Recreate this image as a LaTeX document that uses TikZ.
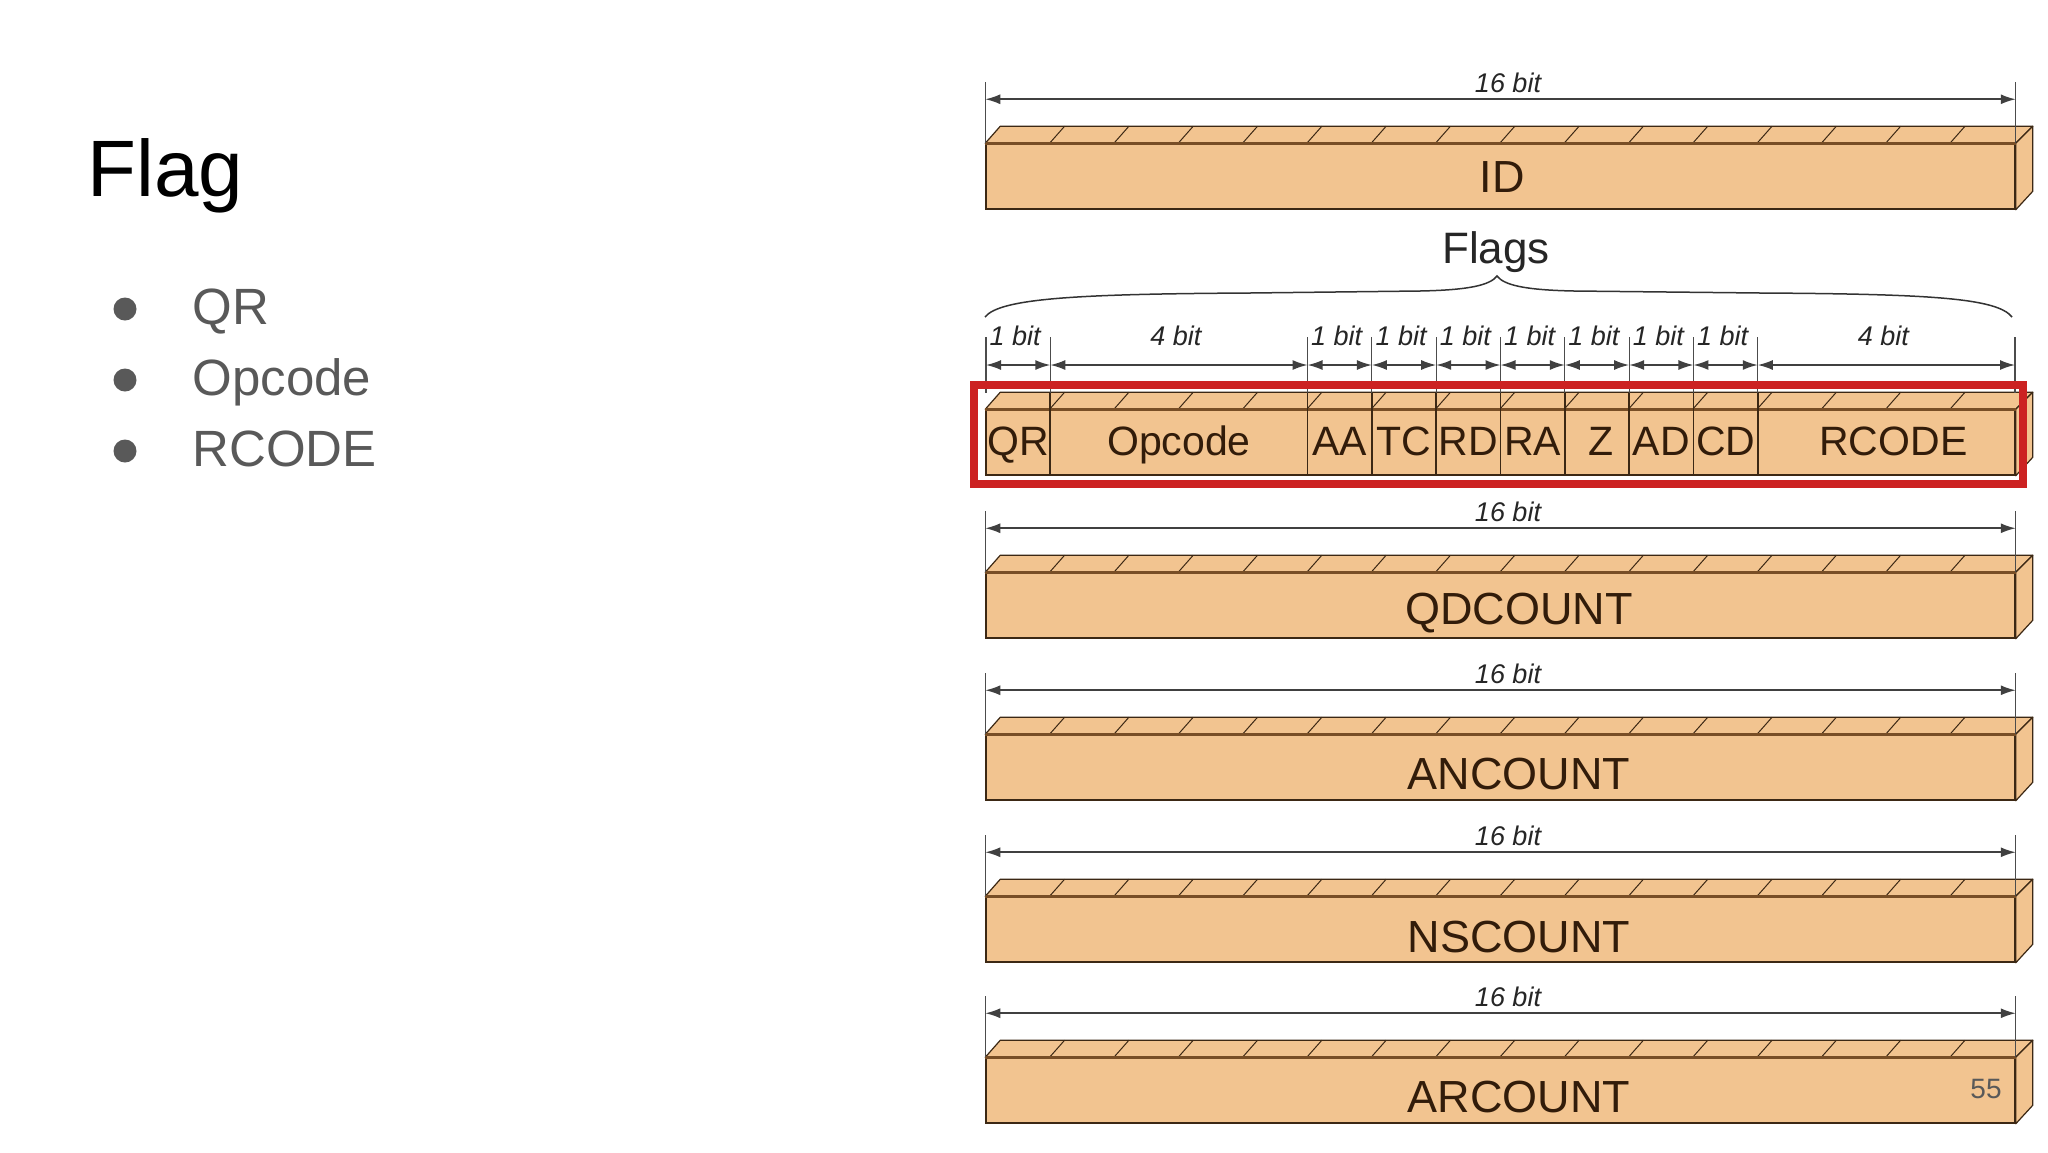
\documentclass[tikz,border=0pt]{standalone}
\usepackage{fontspec}
\setmainfont{Liberation Sans}
\usetikzlibrary{arrows.meta,positioning}
\definecolor{barfill}{RGB}{242,196,144}
\definecolor{baredge}{RGB}{120,78,38}
\definecolor{barline}{RGB}{60,40,20}
\definecolor{bartext}{RGB}{50,28,10}
\definecolor{boxred}{RGB}{204,34,34}
\definecolor{slidegray}{RGB}{89,89,89}
\newcommand{\bitw}{64.3125}

\begin{document}
\begin{tikzpicture}[x=1pt,y=1pt,
    barbox/.style={draw=barline, fill=barfill, line width=1.5pt, inner sep=0pt, minimum width=1029pt, minimum height=65pt},
    topface/.style={draw=barline, fill=barfill, line width=1.2pt, line join=round},
    slash/.style={draw=barline, line width=1pt},
    dimline/.style={draw=black!70, line width=1.2pt},
    dimarrow/.style={draw=black!75, line width=1.6pt, {Latex[length=15pt,width=10pt]}-{Latex[length=15pt,width=10pt]}},
    bitlabel/.style={font=\fontsize{27}{27}\selectfont\itshape, text=black!85, anchor=base},
    bartext/.style={text=bartext, anchor=base},
  ]
  \fill[white] (0,0) rectangle (2048,-1152);
  \useasboundingbox (0,0) rectangle (2048,-1152);

  % left column
  \node[anchor=base west, font=\fontsize{80}{80}\selectfont] (title) at (84,-196) {Flag};
  \foreach \txt/\yb [count=\i] in {QR/324, Opcode/395, RCODE/466} {
    \node[circle, fill=slidegray, minimum size=23pt, inner sep=0pt] (dot\i) at (125,{-\yb+15}) {};
    \node[anchor=base west, text=slidegray, font=\fontsize{51}{51}\selectfont] (item\i) at (189,-\yb) {\txt};
  }

  % 16 bit rows
  \foreach \nm/\lbl/\yt/\yb/\xt in {id/ID/127/65/1502, qd/QDCOUNT/556/68/1519, an/ANCOUNT/718/71/1519, ns/NSCOUNT/880/72/1519, ar/ARCOUNT/1041/71/1519} {
    \node[barbox] (\nm) at (1500.5,{-\yt-49.5}) {};
    \draw[topface] (\nm.north west) -- ++(15,17) -- ([shift={(17,17)}]\nm.north east) -- (\nm.north east) -- cycle;
    \draw[topface] (\nm.north east) -- ++(17,17) -- ++(0,-65) -- (\nm.south east) -- cycle;
    \foreach \k in {1,...,15}
      \draw[slash] ([shift={(\k*\bitw,0)}]\nm.north west) -- ++(15,17);
    \draw[baredge, line width=3pt] (\nm.north west) -- (\nm.north east);
    \draw[dimline] (\nm.north west) -- ++(0,61);
    \draw[dimline] (\nm.north east) -- ++(0,61);
    \draw[dimarrow] ([yshift=44pt]\nm.north west) -- ([yshift=44pt]\nm.north east);
    \node[bitlabel] (\nm bits) at (1508,{-\yt+35}) {16 bit};
    \node[bartext, font=\fontsize{45}{45}\selectfont] (\nm text) at (\xt,{-\yt-\yb}) {\lbl};
  }

  % flags row
  \node[font=\fontsize{44}{44}\selectfont, text=black!85, anchor=base] (flagslbl) at (1496,-263) {Flags};
  \draw[black!80, line width=1.5pt] (985,-317) .. controls (1000,-298) and (1080,-294) .. (1250,-293)
    -- (1420,-291) .. controls (1470,-290) and (1490,-285) .. (1497,-276)
    .. controls (1504,-285) and (1524,-290) .. (1574,-291)
    -- (1760,-293) .. controls (1930,-294) and (1997,-298) .. (2012,-317);
  \node[barbox] (flags) at (1500.5,-442.5) {};
  \draw[topface] (flags.north west) -- ++(15,17) -- ([shift={(17,17)}]flags.north east) -- (flags.north east) -- cycle;
  \draw[topface] (flags.north east) -- ++(17,17) -- ++(0,-65) -- (flags.south east) -- cycle;
  \foreach \k in {1,...,15}
    \draw[slash] ([shift={(\k*\bitw,0)}]flags.north west) -- ++(15,17);
  \draw[baredge, line width=3pt] (flags.north west) -- (flags.north east);
  \foreach \s in {0,1,5,6,...,12,16}
    \draw[dimline] ({986+\s*\bitw},-337) -- ({986+\s*\bitw},-393);
  \foreach \s in {1,5,6,...,12}
    \draw[barline, line width=1.8pt] ({986+\s*\bitw},-393) -- ({986+\s*\bitw},-475);
  \foreach \lbl/\s/\n/\dx [count=\i] in {QR/0/1/0, Opcode/1/4/0, AA/5/1/0, TC/6/1/0, RD/7/1/0, RA/8/1/0, Z/9/1/4, AD/10/1/0, CD/11/1/0, RCODE/12/4/7} {
    \coordinate (fa\i) at ({986+\s*\bitw},-365);
    \coordinate (fb\i) at ({986+(\s+\n)*\bitw},-365);
    \draw[dimarrow] (fa\i) -- (fb\i);
    \node[bitlabel] (fbit\i) at ({983+(\s+\n/2)*\bitw},-345) {\n\ bit};
    \node[bartext, font=\fontsize{41}{41}\selectfont] (fld\i) at ({986+\dx+(\s+\n/2)*\bitw},-455) {\lbl};
  }
  \draw[boxred, line width=8pt] (974,-385) rectangle (2023,-484);

  \node[text=slidegray, font=\fontsize{28}{28}\selectfont, anchor=base] (pgnum) at (1986,-1098) {55};
\end{tikzpicture}
\end{document}
